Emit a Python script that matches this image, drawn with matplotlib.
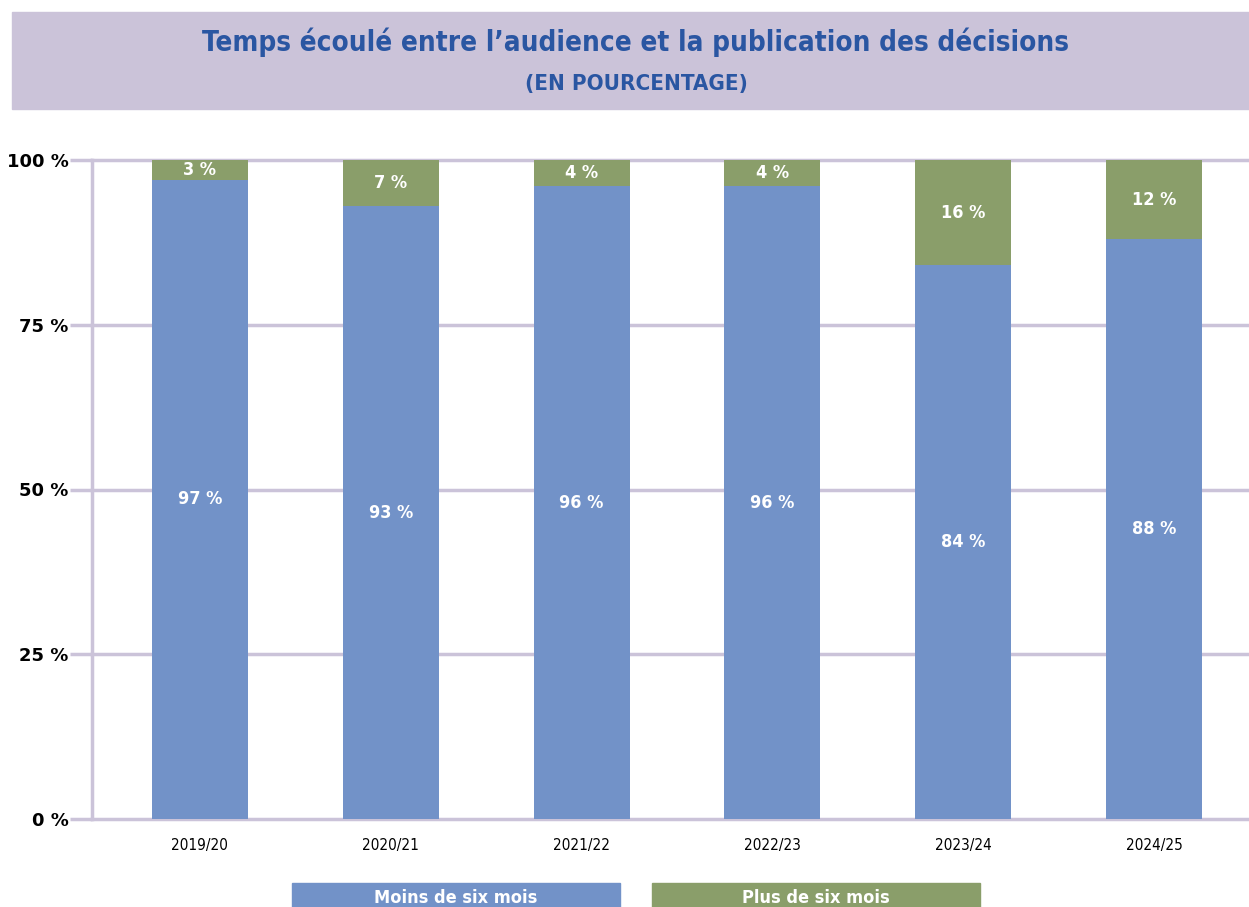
import numpy as np
import matplotlib.pyplot as plt
from matplotlib.patches import Rectangle

years = ['2019/20', '2020/21', '2021/22', '2022/23', '2023/24', '2024/25']
moins = [97, 93, 96, 96, 84, 88]
plus = [3, 7, 4, 4, 16, 12]
series_names = ['Moins de six mois', 'Plus de six mois']
yticks = [0, 25, 50, 75, 100]

blue = '#7292c8'
green = '#8a9e6a'
lilac = '#cbc3d9'
title_col = '#2a56a2'

plt.rcParams['font.family'] = ['DejaVu Sans']
plt.rcParams['font.stretch'] = 'condensed'

W, H = 1249, 907
fig = plt.figure(figsize=(W / 100, H / 100), dpi=100)

# title band
fig.patches.append(Rectangle((12 / W, 1 - 109 / H), 1 - 12 / W, 97 / H,
                             transform=fig.transFigure, color=lilac, zorder=0))
fig.text(636 / W, 1 - 42 / H, 'Temps écoulé entre l\u2019audience et la publication des décisions',
         ha='center', va='center', fontsize=20, fontweight='bold', color=title_col)
fig.text(636 / W, 1 - 84 / H, '(EN POURCENTAGE)', ha='center', va='center',
         fontsize=16, fontweight='bold', color=title_col)

ax = fig.add_axes([92 / W, 1 - 819 / H, 1 - 92 / W, 659 / H])
x = np.arange(len(years))
w = 0.503
ax.bar(x, moins, width=w, color=blue, zorder=3)
ax.bar(x, plus, width=w, bottom=moins, color=green, zorder=3)

for i in range(len(years)):
    ax.text(x[i], moins[i] / 2, f'{moins[i]} %', ha='center', va='center',
            color='white', fontsize=13, fontweight='bold', zorder=4)
    ax.text(x[i], moins[i] + plus[i] / 2, f'{plus[i]} %', ha='center', va='center',
            color='white', fontsize=13, fontweight='bold', zorder=4)

ax.set_xlim(-0.565, 5.497)
ax.set_ylim(0, 100)
ax.set_yticks(yticks)
ax.set_yticklabels([f'{v} %' for v in yticks], fontsize=13, fontweight='bold',
                   fontstretch='normal')
ax.set_xticks(x)
ax.set_xticklabels(years, fontsize=11)
ax.tick_params(axis='y', length=16, width=2.5, color=lilac, pad=1)
ax.tick_params(axis='x', length=0, pad=14)
for v in yticks:
    ax.axhline(v, color=lilac, lw=2.5, zorder=1, clip_on=False)
for s in ['top', 'right', 'bottom']:
    ax.spines[s].set_visible(False)
ax.spines['left'].set_color(lilac)
ax.spines['left'].set_linewidth(2.5)

# legend boxes
for (x0, col, name) in [(292, blue, series_names[0]), (652, green, series_names[1])]:
    fig.patches.append(Rectangle((x0 / W, 0), 328 / W, 24 / H,
                                 transform=fig.transFigure, color=col, zorder=0))
    fig.text((x0 + 164) / W, 1 - 898 / H, name, ha='center', va='center',
             fontsize=13, fontweight='bold', color='white')

fig.savefig('out.png', dpi=100)
